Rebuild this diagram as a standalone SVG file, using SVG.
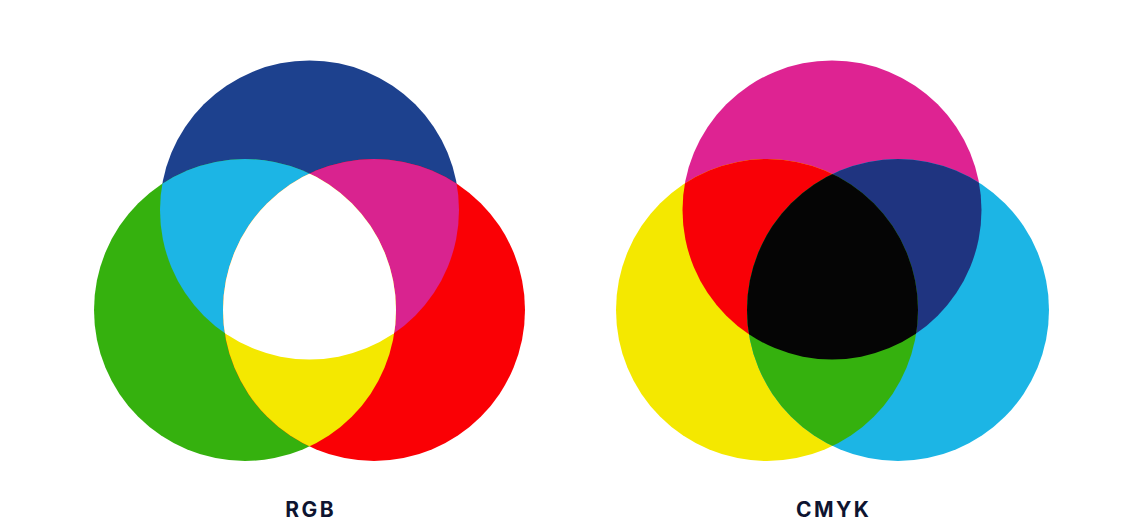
<svg xmlns="http://www.w3.org/2000/svg" width="1142" height="523" viewBox="0 0 1142 523">
  <style>
    .lbl { font-family: Inter, "Noto Sans", "Liberation Sans", sans-serif; font-weight: 700; font-size: 21px; fill: #0e1430; text-anchor: middle; letter-spacing: 2.5px; }
  </style>
  <defs>
    <circle id="rT" cx="309.5" cy="210" r="149.5"/>
    <circle id="rL" cx="245" cy="310" r="151"/>
    <circle id="rR" cx="374" cy="310" r="151"/>
    <circle id="cT" cx="832" cy="210" r="149.5"/>
    <circle id="cL" cx="767" cy="310" r="151"/>
    <circle id="cR" cx="898" cy="310" r="151"/>
    <clipPath id="clipRT"><use href="#rT"/></clipPath>
    <clipPath id="clipRL"><use href="#rL"/></clipPath>
    <clipPath id="clipCT"><use href="#cT"/></clipPath>
    <clipPath id="clipCL"><use href="#cL"/></clipPath>
  </defs>
  <rect width="1142" height="523" fill="#ffffff"/>

  <g id="rgb">
    <g id="rgb-blue"><use href="#rT" fill="#1d418e"/></g>
    <g id="rgb-green"><use href="#rL" fill="#35b10e"/></g>
    <g id="rgb-red"><use href="#rR" fill="#fa0005"/></g>
    <g id="rgb-cyan" clip-path="url(#clipRT)"><use href="#rL" fill="#1cb5e5"/></g>
    <g id="rgb-magenta" clip-path="url(#clipRT)"><use href="#rR" fill="#d9238f"/></g>
    <g id="rgb-yellow" clip-path="url(#clipRL)"><use href="#rR" fill="#f4e800"/></g>
    <g id="rgb-white" clip-path="url(#clipRL)"><g clip-path="url(#clipRT)"><use href="#rR" fill="#ffffff"/></g></g>
    <text class="lbl" x="310.7" y="517">RGB</text>
  </g>

  <g id="cmyk">
    <g id="cmyk-magenta"><use href="#cT" fill="#de2392"/></g>
    <g id="cmyk-yellow"><use href="#cL" fill="#f4e800"/></g>
    <g id="cmyk-cyan"><use href="#cR" fill="#1cb5e5"/></g>
    <g id="cmyk-red" clip-path="url(#clipCT)"><use href="#cL" fill="#f90006"/></g>
    <g id="cmyk-blue" clip-path="url(#clipCT)"><use href="#cR" fill="#1f3480"/></g>
    <g id="cmyk-green" clip-path="url(#clipCL)"><use href="#cR" fill="#35b10e"/></g>
    <g id="cmyk-black" clip-path="url(#clipCL)"><g clip-path="url(#clipCT)"><use href="#cR" fill="#050505"/></g></g>
    <text class="lbl" x="833.7" y="517">CMYK</text>
  </g>
</svg>
